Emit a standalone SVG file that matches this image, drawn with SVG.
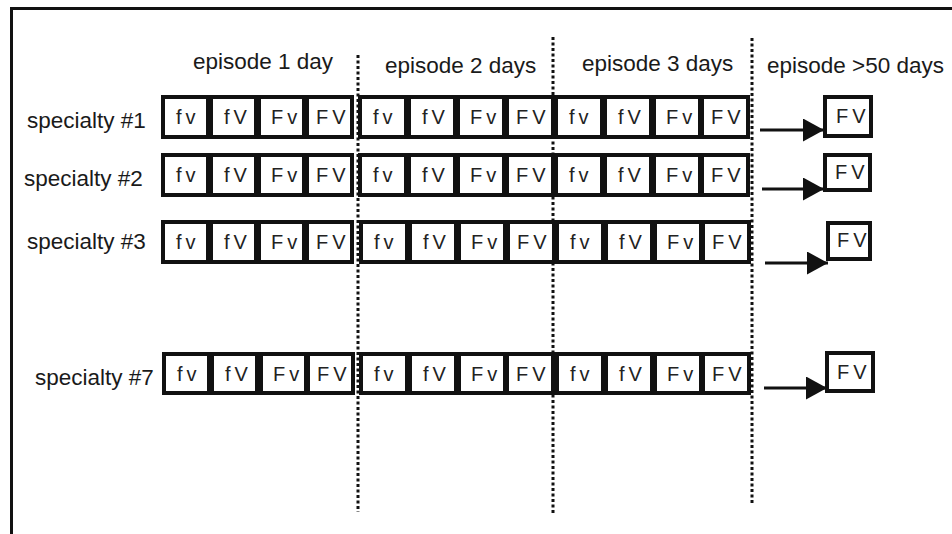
<svg xmlns="http://www.w3.org/2000/svg" width="952" height="534" viewBox="0 0 952 534">
<style>
.hdr{font-family:"Liberation Sans",Arial,sans-serif;font-size:22.5px;fill:#1a1a1a}
.lbl{font-family:"Liberation Sans",Arial,sans-serif;font-size:22.5px;fill:#1a1a1a}
.b rect{fill:#fff;stroke:#111;stroke-width:4}
.b text{font-family:"Liberation Sans",Arial,sans-serif;font-size:20px;letter-spacing:4px;fill:#222}
.sep{fill:#111}
.dot{stroke:#111;stroke-width:3;stroke-dasharray:3 2.5;fill:none}
.arr{stroke:#111;stroke-width:3;fill:none}
</style>
<defs>
<marker id="ah" markerWidth="22" markerHeight="24" refX="21" refY="11.5" orient="auto" markerUnits="userSpaceOnUse">
<path d="M0,0 L21,11.5 L0,23 Z" fill="#111"/>
</marker>
</defs>
<rect width="952" height="534" fill="#fff"/>
<g id="frame">
<line x1="10" y1="8.5" x2="952" y2="8.5" stroke="#111" stroke-width="3"/>
<line x1="11.5" y1="7" x2="11.5" y2="534" stroke="#111" stroke-width="3"/>
</g>
<g id="headers">
<text class="hdr" x="193" y="69">episode 1 day</text>
<text class="hdr" x="385" y="73">episode 2 days</text>
<text class="hdr" x="582" y="71">episode 3 days</text>
<text class="hdr" x="767" y="73">episode &gt;50 days</text>
</g>
<g id="labels">
<text class="lbl" x="27" y="128">specialty #1</text>
<text class="lbl" x="24" y="186">specialty #2</text>
<text class="lbl" x="27" y="249">specialty #3</text>
<text class="lbl" x="35" y="385">specialty #7</text>
</g>
<g id="connectors">
<line class="dot" x1="358" y1="55" x2="358" y2="512"/>
<line class="dot" x1="553" y1="37" x2="553" y2="514"/>
<line class="dot" x1="752" y1="38" x2="752" y2="505"/>
<line class="arr" x1="760" y1="130" x2="824" y2="130" marker-end="url(#ah)"/>
<line class="arr" x1="762" y1="189" x2="824" y2="189" marker-end="url(#ah)"/>
<line class="arr" x1="765" y1="263" x2="828" y2="263" marker-end="url(#ah)"/>
<line class="arr" x1="764" y1="388" x2="827" y2="388" marker-end="url(#ah)"/>
</g>
<!-- row 1 -->
<g id="r1">
<g id="r1e1b1" class="b"><rect x="163" y="97" width="45" height="40"/><text x="176" y="124">fv</text></g>
<g id="r1e1b2" class="b"><rect x="211" y="97" width="45" height="40"/><text x="224" y="124">fV</text></g>
<g id="r1e1b3" class="b"><rect x="259" y="97" width="45" height="40"/><text x="271" y="124">Fv</text></g>
<g id="r1e1b4" class="b"><rect x="307" y="97" width="45" height="40"/><text x="316" y="124">FV</text></g>
<g id="r1e2b1" class="b"><rect x="360" y="97" width="46" height="40"/><text x="373" y="124">fv</text></g>
<g id="r1e2b2" class="b"><rect x="409" y="97" width="46" height="40"/><text x="422" y="124">fV</text></g>
<g id="r1e2b3" class="b"><rect x="458" y="97" width="46" height="40"/><text x="470" y="124">Fv</text></g>
<g id="r1e2b4" class="b"><rect x="507" y="97" width="46" height="40"/><text x="516" y="124">FV</text></g>
<rect class="sep" x="503" y="95" width="6" height="44"/>
<g id="r1e3b1" class="b"><rect x="556" y="97" width="46" height="40"/><text x="569" y="124">fv</text></g>
<g id="r1e3b2" class="b"><rect x="605" y="97" width="46" height="40"/><text x="618" y="124">fV</text></g>
<g id="r1e3b3" class="b"><rect x="654" y="97" width="46" height="40"/><text x="666" y="124">Fv</text></g>
<g id="r1e3b4" class="b"><rect x="702" y="97" width="46" height="40"/><text x="711" y="124">FV</text></g>
<g id="r1fv" class="b"><rect x="825" y="97" width="46" height="39"/><text x="836" y="123">FV</text></g>
</g>
<!-- row 2 -->
<g id="r2">
<g id="r2e1b1" class="b"><rect x="163" y="155" width="45" height="40"/><text x="176" y="182">fv</text></g>
<g id="r2e1b2" class="b"><rect x="211" y="155" width="45" height="40"/><text x="224" y="182">fV</text></g>
<g id="r2e1b3" class="b"><rect x="259" y="155" width="45" height="40"/><text x="271" y="182">Fv</text></g>
<g id="r2e1b4" class="b"><rect x="307" y="155" width="45" height="40"/><text x="316" y="182">FV</text></g>
<g id="r2e2b1" class="b"><rect x="360" y="155" width="46" height="40"/><text x="373" y="182">fv</text></g>
<g id="r2e2b2" class="b"><rect x="409" y="155" width="46" height="40"/><text x="422" y="182">fV</text></g>
<g id="r2e2b3" class="b"><rect x="458" y="155" width="46" height="40"/><text x="470" y="182">Fv</text></g>
<g id="r2e2b4" class="b"><rect x="507" y="155" width="46" height="40"/><text x="516" y="182">FV</text></g>
<rect class="sep" x="503" y="153" width="6" height="44"/>
<g id="r2e3b1" class="b"><rect x="556" y="155" width="46" height="40"/><text x="569" y="182">fv</text></g>
<g id="r2e3b2" class="b"><rect x="605" y="155" width="46" height="40"/><text x="618" y="182">fV</text></g>
<g id="r2e3b3" class="b"><rect x="654" y="155" width="46" height="40"/><text x="666" y="182">Fv</text></g>
<g id="r2e3b4" class="b"><rect x="702" y="155" width="46" height="40"/><text x="711" y="182">FV</text></g>
<g id="r2fv" class="b"><rect x="825" y="155" width="45" height="35"/><text x="835" y="179">FV</text></g>
</g>
<!-- row 3 -->
<g id="r3">
<g id="r3e1b1" class="b"><rect x="163" y="222" width="45" height="40"/><text x="176" y="249">fv</text></g>
<g id="r3e1b2" class="b"><rect x="211" y="222" width="45" height="40"/><text x="224" y="249">fV</text></g>
<g id="r3e1b3" class="b"><rect x="259" y="222" width="45" height="40"/><text x="271" y="249">Fv</text></g>
<g id="r3e1b4" class="b"><rect x="307" y="222" width="45" height="40"/><text x="316" y="249">FV</text></g>
<g id="r3e2b1" class="b"><rect x="361" y="222" width="46" height="40"/><text x="374" y="249">fv</text></g>
<g id="r3e2b2" class="b"><rect x="410" y="222" width="46" height="40"/><text x="423" y="249">fV</text></g>
<g id="r3e2b3" class="b"><rect x="459" y="222" width="46" height="40"/><text x="471" y="249">Fv</text></g>
<g id="r3e2b4" class="b"><rect x="508" y="222" width="46" height="40"/><text x="517" y="249">FV</text></g>
<rect class="sep" x="504" y="220" width="6" height="44"/>
<g id="r3e3b1" class="b"><rect x="557" y="222" width="46" height="40"/><text x="570" y="249">fv</text></g>
<g id="r3e3b2" class="b"><rect x="606" y="222" width="46" height="40"/><text x="619" y="249">fV</text></g>
<g id="r3e3b3" class="b"><rect x="655" y="222" width="46" height="40"/><text x="667" y="249">Fv</text></g>
<g id="r3e3b4" class="b"><rect x="703" y="222" width="46" height="40"/><text x="712" y="249">FV</text></g>
<g id="r3fv" class="b"><rect x="828" y="223" width="42" height="36"/><text x="837" y="247">FV</text></g>
</g>
<!-- row 7 -->
<g id="r7">
<g id="r7e1b1" class="b"><rect x="164" y="354" width="45" height="39"/><text x="177" y="381">fv</text></g>
<g id="r7e1b2" class="b"><rect x="212" y="354" width="45" height="39"/><text x="225" y="381">fV</text></g>
<g id="r7e1b3" class="b"><rect x="261" y="354" width="45" height="39"/><text x="273" y="381">Fv</text></g>
<g id="r7e1b4" class="b"><rect x="308" y="354" width="45" height="39"/><text x="317" y="381">FV</text></g>
<rect class="sep" x="304" y="352" width="6" height="43"/>
<g id="r7e2b1" class="b"><rect x="361" y="354" width="46" height="39"/><text x="374" y="381">fv</text></g>
<g id="r7e2b2" class="b"><rect x="410" y="354" width="46" height="39"/><text x="423" y="381">fV</text></g>
<g id="r7e2b3" class="b"><rect x="459" y="354" width="46" height="39"/><text x="471" y="381">Fv</text></g>
<g id="r7e2b4" class="b"><rect x="507" y="354" width="46" height="39"/><text x="516" y="381">FV</text></g>
<g id="r7e3b1" class="b"><rect x="557" y="354" width="46" height="39"/><text x="570" y="381">fv</text></g>
<g id="r7e3b2" class="b"><rect x="606" y="354" width="46" height="39"/><text x="619" y="381">fV</text></g>
<g id="r7e3b3" class="b"><rect x="655" y="354" width="46" height="39"/><text x="667" y="381">Fv</text></g>
<g id="r7e3b4" class="b"><rect x="703" y="354" width="46" height="39"/><text x="712" y="381">FV</text></g>
<g id="r7fv" class="b"><rect x="827" y="353" width="46" height="38"/><text x="837" y="379">FV</text></g>
</g>
</svg>
